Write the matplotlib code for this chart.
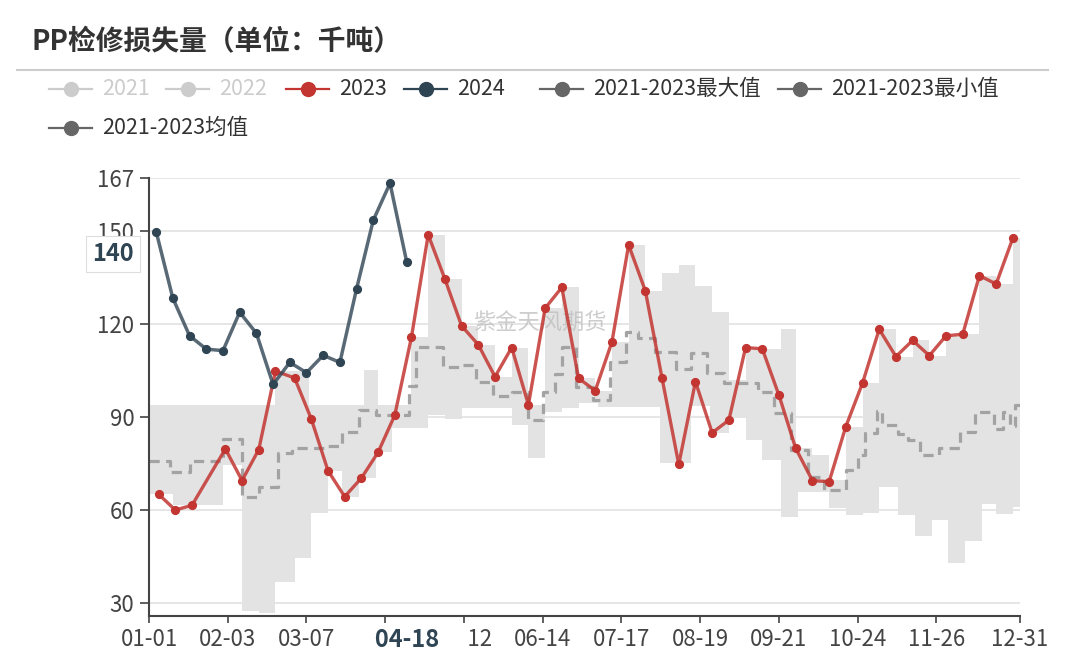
import matplotlib
matplotlib.use('Agg')
import matplotlib.pyplot as plt
import matplotlib.dates as mdates
import pandas as pd

plt.rcParams['font.family'] = ['Noto Sans CJK SC', 'DejaVu Sans']

# ---------------- data ----------------
YEAR = 2024  # MM-DD category calendar (includes 02-29)

dates_2023 = ['01-05', '01-12', '01-19', '02-02', '02-09', '02-16', '02-23', '03-02',
              '03-09', '03-16', '03-23', '03-30', '04-06', '04-13', '04-20', '04-27',
              '05-04', '05-11', '05-18', '05-25', '06-01', '06-08', '06-15', '06-22',
              '06-29', '07-06', '07-13', '07-20', '07-27', '08-03', '08-10', '08-17',
              '08-24', '08-31', '09-07', '09-14', '09-21', '09-28', '10-05', '10-12',
              '10-19', '10-26', '11-02', '11-09', '11-16', '11-23', '11-30', '12-07',
              '12-14', '12-21', '12-28']
vals_2023 = [65.1, 60.0, 61.5, 79.7, 69.5, 79.5, 104.8, 102.6,
             89.4, 72.7, 64.3, 70.3, 78.6, 90.6, 115.8, 148.8,
             134.5, 119.4, 113.3, 103.0, 112.4, 93.9, 125.1, 131.8,
             102.5, 98.5, 114.2, 145.5, 130.7, 102.5, 74.7, 101.4,
             84.9, 89.0, 112.4, 112.0, 97.0, 79.9, 69.5, 69.1,
             86.9, 100.9, 118.3, 109.5, 114.7, 109.8, 116.2, 116.7,
             135.6, 132.9, 147.7]

dates_2024 = ['01-04', '01-11', '01-18', '01-25', '02-01', '02-08', '02-15', '02-22',
              '02-29', '03-07', '03-14', '03-21', '03-28', '04-04', '04-11', '04-18']
vals_2024 = [149.8, 128.3, 116.2, 111.9, 111.4, 123.8, 117.0, 100.5,
             107.6, 104.3, 109.9, 107.6, 131.4, 153.5, 165.4, 140.0]

max_dates = ['01-01', '02-23', '03-08', '03-31', '04-06', '04-20', '04-27', '05-04',
             '05-11', '05-18', '05-25', '06-01', '06-08', '06-15', '06-22', '06-29',
             '07-06', '07-13', '07-20', '07-27', '08-03', '08-10', '08-17', '08-24',
             '08-31', '09-07', '09-14', '09-22', '09-28', '10-05', '10-12', '10-19',
             '10-26', '11-02', '11-09', '11-16', '11-23', '11-30', '12-07', '12-14',
             '12-21', '12-28']
max_vals = [94.0, 104.8, 94.0, 105.0, 94.0, 115.9, 148.8, 134.5,
            119.4, 113.3, 103.0, 112.4, 94.0, 125.1, 131.8, 102.5,
            98.5, 114.2, 145.5, 130.7, 136.4, 139.0, 132.3, 124.0,
            102.0, 112.4, 111.9, 118.3, 79.9, 77.7, 69.7, 86.9,
            100.9, 118.3, 109.5, 114.7, 109.8, 116.2, 116.7, 135.6,
            132.9, 147.7]

min_dates = ['01-01', '01-11', '02-01', '02-09', '02-16', '02-23', '03-02', '03-09',
             '03-16', '03-22', '03-29', '04-05', '04-12', '04-27', '05-04', '05-11',
             '06-01', '06-08', '06-15', '06-22', '06-29', '07-07', '08-02', '08-15',
             '08-23', '08-31', '09-07', '09-14', '09-22', '09-29', '10-12', '10-19',
             '10-26', '11-02', '11-10', '11-17', '11-24', '12-01', '12-08', '12-15',
             '12-21', '12-28']
min_vals = [65.1, 61.5, 74.5, 27.5, 26.7, 36.7, 44.5, 58.9,
            72.7, 64.3, 70.3, 78.7, 86.4, 90.6, 89.4, 93.0,
            87.4, 76.7, 91.7, 92.8, 94.5, 93.2, 75.1, 93.5,
            84.9, 89.6, 82.6, 76.1, 57.8, 65.7, 60.5, 58.4,
            58.9, 67.5, 58.4, 51.6, 56.8, 42.8, 50.1, 61.9,
            58.7, 61.1]

mean_dates = ['01-01', '01-10', '01-18', '02-01', '02-09', '02-16', '02-24', '03-01',
              '03-15', '03-22', '03-29', '04-05', '04-19', '04-22', '05-03', '05-10',
              '05-17', '05-24', '06-01', '06-08', '06-14', '06-19', '06-22', '06-28',
              '07-05', '07-12', '07-19', '07-24', '07-31', '08-09', '08-15', '08-22',
              '08-29', '09-12', '09-19', '09-26', '10-03', '10-10', '10-19', '10-24',
              '10-27', '11-01', '11-03', '11-10', '11-14', '11-19', '11-27', '12-06',
              '12-12', '12-20', '12-24', '12-27', '12-29']
mean_vals = [75.8, 72.3, 75.8, 82.8, 64.3, 67.5, 78.3, 80.1,
             80.8, 85.3, 92.3, 90.6, 100.0, 112.7, 106.2, 106.8,
             101.4, 96.8, 98.2, 89.0, 98.0, 104.0, 112.7, 99.8,
             95.5, 107.8, 117.5, 115.4, 111.1, 105.5, 110.5, 104.1,
             100.9, 98.2, 91.2, 79.4, 70.7, 66.5, 72.9, 77.7,
             84.7, 92.0, 87.4, 84.5, 82.6, 77.7, 80.0, 85.0,
             91.7, 86.0, 91.7, 87.0, 94.0]

xtick_labels = ['01-01', '02-03', '03-07', '04-09', '05-12', '06-14', '07-17',
                '08-19', '09-21', '10-24', '11-26', '12-31']
ytick_vals = [30, 60, 90, 120, 150, 167]
y_min, y_max = 25.8, 167

legend_labels = ['2021', '2022', '2023', '2024',
                 '2021-2023最大值', '2021-2023最小值', '2021-2023均值']
pointer_x = '04-18'
pointer_y = 140
title = 'PP检修损失量（单位：千吨）'
watermark = '紫金天风期货'

# ---------------- styling ----------------
C2023 = '#c23531'
C2024 = '#2f4554'
CGREY = '#666666'
CFADE = '#cccccc'
CBAND = '#e3e3e3'
CMEAN = '#a3a3a3'


def to_dt(mmdd):
    return pd.Timestamp(f'{YEAR}-{mmdd}')


x_start = to_dt(xtick_labels[0])
x_end = to_dt(xtick_labels[-1])


def step_xy(dates, vals):
    d = [to_dt(m) for m in dates] + [x_end]
    xs, ys = [], []
    for i, v in enumerate(vals):
        xs += [d[i], d[i + 1]]
        ys += [v, v]
    return xs, ys


W, H = 1080, 659
fig = plt.figure(figsize=(W / 100, H / 100), dpi=100)

# overlay in pixel coordinates for title / legend
ov = fig.add_axes([0, 0, 1, 1], zorder=0)
ov.set_xlim(0, W)
ov.set_ylim(H, 0)
ov.axis('off')

L, R, T, B = 149, 1020, 178.3, 616
ax = fig.add_axes([L / W, 1 - B / H, (R - L) / W, (B - T) / H], zorder=1)
ax.patch.set_alpha(0)

# band
tx, ty = step_xy(max_dates, max_vals)
bx, by = step_xy(min_dates, min_vals)
px = list(mdates.date2num(tx)) + list(mdates.date2num(bx))[::-1]
py = ty + by[::-1]
ax.fill(px, py, color=CBAND, lw=0, zorder=1)

# gridlines
for v in ytick_vals:
    ax.axhline(v, color='#e4e4e4', lw=1.3, zorder=1.5)

# watermark
ax.text(540, 323, watermark, transform=ov.transData, ha='center', va='center',
        fontsize=16, color='#bdbdbd', alpha=0.75, zorder=2.2)

# mean
mx, my = step_xy(mean_dates, mean_vals)
ax.plot(mdates.date2num(mx), my, color=CMEAN, lw=2.3, dashes=(3.2, 2.0),
        zorder=2.5, solid_capstyle='butt', dash_capstyle='butt')

# 2023
d23 = mdates.date2num([to_dt(m) for m in dates_2023])
ax.plot(d23, vals_2023, color=C2023, lw=2.4, alpha=0.85, zorder=4)
ax.plot(d23, vals_2023, ls='none', marker='o', ms=5.6, color=C2023, zorder=4.1)

# 2024
d24 = mdates.date2num([to_dt(m) for m in dates_2024])
ax.plot(d24, vals_2024, color=C2024, lw=2.5, alpha=0.8, zorder=5)
ax.plot(d24, vals_2024, ls='none', marker='o', ms=5.6, color=C2024, zorder=5.1)

# axes
ax.set_xlim(mdates.date2num(x_start), mdates.date2num(x_end))
ax.set_ylim(y_min, y_max)
ax.set_xticks(mdates.date2num([to_dt(m) for m in xtick_labels]))
ax.set_xticklabels(xtick_labels)
ax.set_yticks(ytick_vals)
ax.set_yticklabels([str(v) for v in ytick_vals])
for s in ['top', 'right']:
    ax.spines[s].set_visible(False)
for s in ['left', 'bottom']:
    ax.spines[s].set_color('#444444')
    ax.spines[s].set_linewidth(1.5)
    ax.spines[s].set_zorder(6)
ax.tick_params(axis='y', length=6.5, width=1.2, color='#444444', labelsize=16,
               labelcolor='#444444', pad=4)
ax.tick_params(axis='x', length=5, width=1.2, color='#444444', labelsize=16,
               labelcolor='#444444', pad=4)

# axis pointer labels
ax.annotate(str(int(pointer_y)), xy=(0, pointer_y), xycoords=('axes fraction', 'data'),
            xytext=(-36, 8), textcoords='offset pixels', ha='center', va='center',
            fontsize=17, fontweight='bold', color=C2024, zorder=10,
            annotation_clip=False,
            bbox=dict(boxstyle='square,pad=0.25', fc='white', ec='#dddddd', lw=0.8))
ax.annotate('     ' + pointer_x + '     ', xy=(mdates.date2num(to_dt(pointer_x)), 0),
            xycoords=('data', 'axes fraction'),
            xytext=(0, -24), textcoords='offset pixels', ha='center', va='center',
            fontsize=17, fontweight='bold', color=C2024, zorder=10,
            annotation_clip=False,
            bbox=dict(boxstyle='square,pad=0.12', fc='white', ec='none'))

# title + separator
ov.text(32, 42, title, ha='left', va='center', fontsize=20, fontweight='bold',
        color='#333333')
ov.plot([17, 1048], [70, 70], color='#cccccc', lw=1.5)

# legend (manual, pixel layout)
leg_layout = [
    (49, 89, CFADE, CFADE),
    (166, 89, CFADE, CFADE),
    (286, 89, C2023, '#333333'),
    (404, 89, C2024, '#333333'),
    (540, 89, CGREY, '#333333'),
    (778, 89, CGREY, '#333333'),
    (49, 128, CGREY, '#333333'),
]
for (x0, y0, mc, tc), lab in zip(leg_layout, legend_labels):
    ov.plot([x0, x0 + 43], [y0, y0], color=mc, lw=1.6)
    ov.plot([x0 + 21.5], [y0], marker='o', ms=10, color=mc)
    ov.text(x0 + 53, y0, lab, ha='left', va='center', fontsize=15.5, color=tc)

fig.savefig('out.png', dpi=100)
